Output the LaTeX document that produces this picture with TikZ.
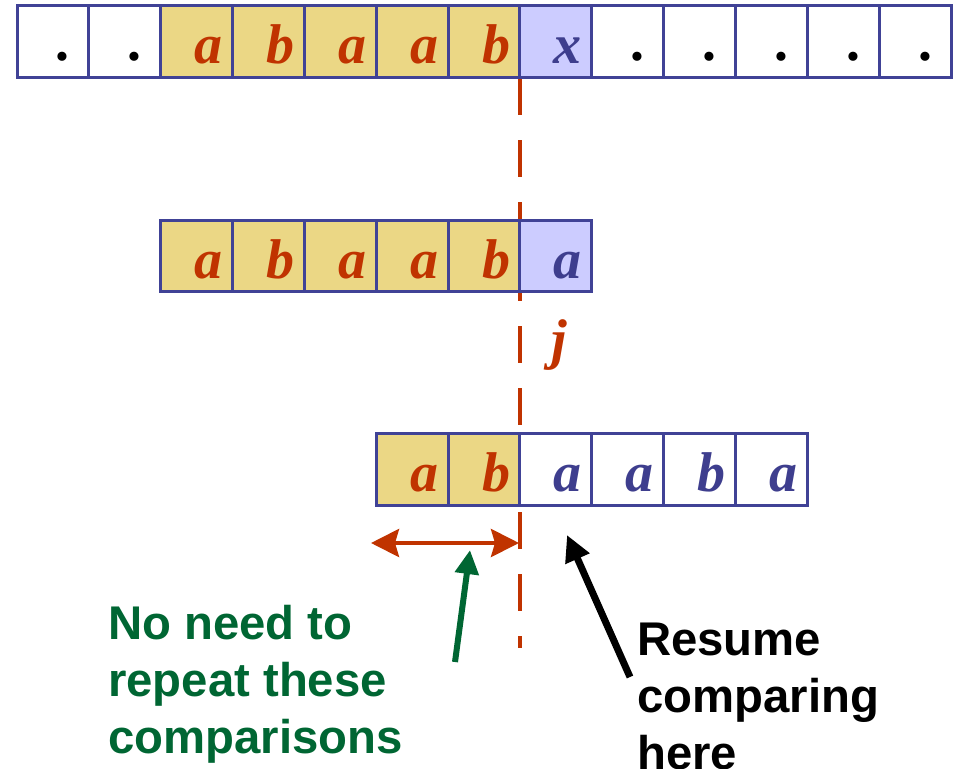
\documentclass[tikz,border=0pt]{standalone}
\usepackage{fontspec}
\setmainfont{Liberation Serif}
\newfontfamily\notefont{Liberation Sans}
\usetikzlibrary{arrows.meta}
\definecolor{cellborder}{RGB}{64,66,150}
\definecolor{matchfill}{RGB}{235,215,133}
\definecolor{probefill}{RGB}{204,204,255}
\definecolor{matchred}{RGB}{192,51,0}
\definecolor{patblue}{RGB}{62,62,142}
\definecolor{notegreen}{RGB}{0,102,51}

\begin{document}
\begin{tikzpicture}[x=1pt,y=-1pt,
  cell/.style={draw=cellborder, line width=3pt, minimum width=71.85pt,
    minimum height=71.5pt, inner sep=0pt, anchor=center},
  sym/.style={font=\fontsize{56}{60}\selectfont\bfseries\itshape,
    inner sep=0pt, anchor=base},
  note/.style={font=\notefont\fontsize{47.3}{57}\selectfont\bfseries,
    align=left, inner sep=0pt, anchor=base west},
  cutline/.style={draw=matchred, line width=4pt, dash pattern=on 37pt off 25pt},
  span/.style={draw=matchred, line width=4pt,
    {Stealth[length=28pt,width=28pt,inset=4pt]}-{Stealth[length=28pt,width=28pt,inset=4pt]}},
  greenarrow/.style={draw=notegreen, line width=6pt, -{Triangle[length=24pt,width=23pt]}},
  blackarrow/.style={draw=black, line width=7pt, -{Triangle[length=26pt,width=25pt]}}
]
\useasboundingbox (0,0) rectangle (955,768);

% mismatch position in the text
\coordinate (cuttop) at (520,78);
\coordinate (cutend) at (520,648);
\draw[cutline] (cuttop) -- (cutend);

% text row (dots sit a little higher than the letters)
\foreach \i/\f/\s/\c/\dy in {1/white/./black/-19, 2/white/./black/-19,
    3/matchfill/a/matchred/-22, 4/matchfill/b/matchred/-22,
    5/matchfill/a/matchred/-22, 6/matchfill/a/matchred/-22,
    7/matchfill/b/matchred/-22, 8/probefill/x/patblue/-22,
    9/white/./black/-19, 10/white/./black/-19, 11/white/./black/-19,
    12/white/./black/-19, 13/white/./black/-19}{
  \node[cell, fill=\f] (t\i) at ({17+71.85*(\i-0.5)}, 41.5) {};
  \node[sym, text=\c] (ts\i) at ([xshift=12pt,yshift=\dy pt]t\i.center) {\s};
}

% pattern at the first alignment
\foreach \i/\f/\s/\c in {3/matchfill/a/matchred, 4/matchfill/b/matchred,
    5/matchfill/a/matchred, 6/matchfill/a/matchred, 7/matchfill/b/matchred,
    8/probefill/a/patblue}{
  \node[cell, fill=\f] (p\i) at ({17+71.85*(\i-0.5)}, 256) {};
  \node[sym, text=\c] (ps\i) at ([xshift=12pt,yshift=-22pt]p\i.center) {\s};
}

\node[sym, text=matchred] (jlab) at (559,358) {j};

% pattern after the shift
\foreach \i/\f/\s/\c in {6/matchfill/a/matchred, 7/matchfill/b/matchred,
    8/white/a/patblue, 9/white/a/patblue, 10/white/b/patblue,
    11/white/a/patblue}{
  \node[cell, fill=\f] (q\i) at ({17+71.85*(\i-0.5)}, 469.5) {};
  \node[sym, text=\c] (qs\i) at ([xshift=12pt,yshift=-22pt]q\i.center) {\s};
}

% already matched prefix
\coordinate (spanl) at (371,543);
\coordinate (spanr) at (519,543);
\draw[span] (spanl) -- (spanr);

% multi-line notes: the base anchor sits on the last line
\node[note, text=notegreen] (skipnote) at (108,753)
  {No need to\\repeat these\\comparisons};
\coordinate (gtail) at (455,662);
\coordinate (ghead) at (470,550);
\draw[greenarrow] (gtail) -- (ghead);

\node[note, text=black] (resumenote) at (637,769)
  {Resume\\comparing\\here};
\coordinate (btail) at (630,677);
\coordinate (bhead) at (567,535);
\draw[blackarrow] (btail) -- (bhead);
\end{tikzpicture}
\end{document}
